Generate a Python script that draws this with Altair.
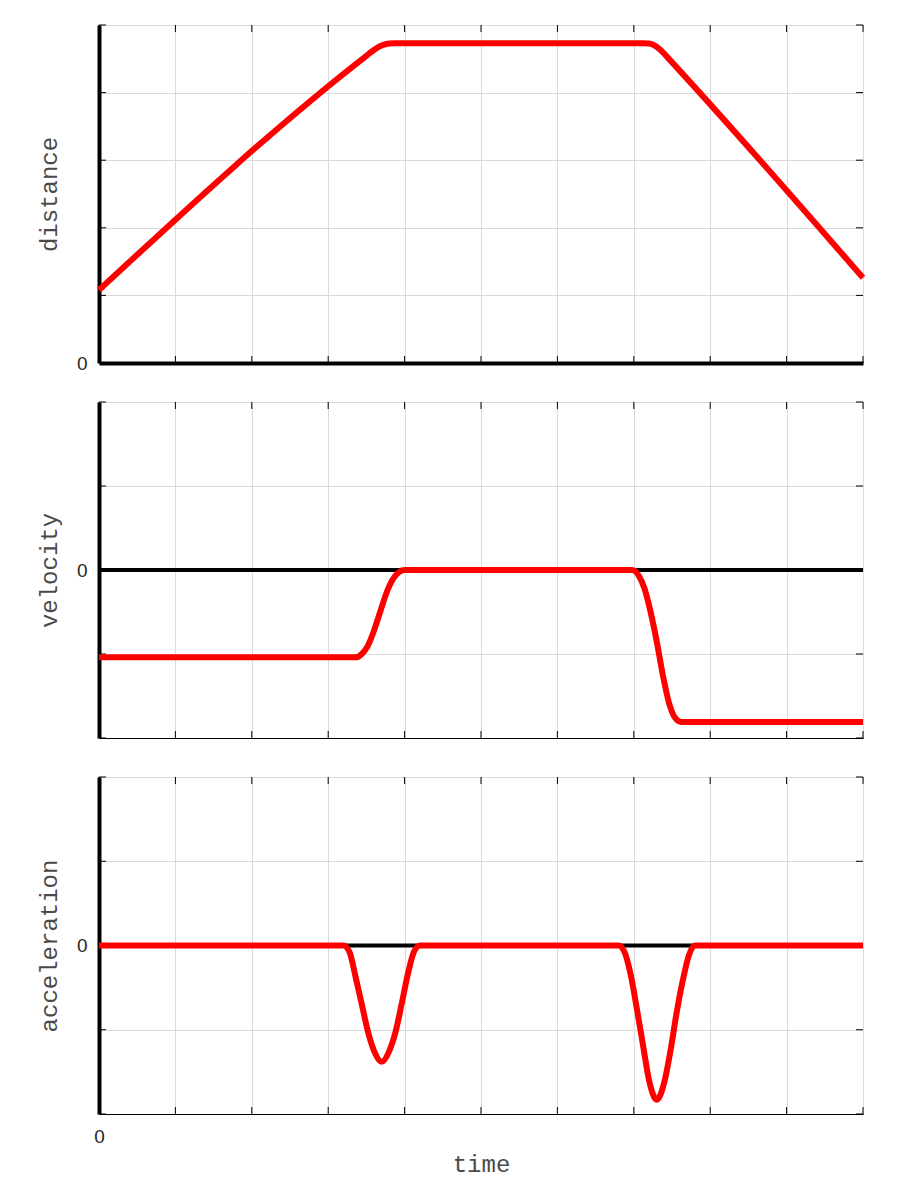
import altair as alt
import pandas as pd

# ---- tick positions ----
time_ticks = [0, 1, 2, 3, 4, 5, 6, 7, 8, 9, 10]
distance_ticks = [0, 1, 2, 3, 4, 5]
velocity_ticks = [-2, -1, 0, 1, 2]
acceleration_ticks = [-2, -1, 0, 1, 2]

# ---- series ----
distance_t = [0, 3.50, 3.58, 3.65, 3.72, 3.80, 3.88, 7.12, 7.20, 7.28, 7.36, 7.45, 10]
distance_v = [1.08, 4.545, 4.615, 4.67, 4.705, 4.725, 4.73, 4.73, 4.725, 4.69, 4.62, 4.51, 1.26]

velocity_t = [0, 3.36, 3.44, 3.52, 3.60, 3.68, 3.76, 3.84, 3.92, 4.00,
              6.98, 7.06, 7.14, 7.22, 7.30, 7.38, 7.46, 7.54, 7.62, 10]
velocity_v = [-1.04, -1.04, -1.00, -0.90, -0.72, -0.50, -0.28, -0.12, -0.03, 0.0,
              0.0, -0.06, -0.22, -0.50, -0.85, -1.25, -1.58, -1.76, -1.81, -1.81]

acceleration_t = [0, 3.20, 3.28, 3.36, 3.44, 3.52, 3.60, 3.70, 3.80, 3.88, 3.96, 4.04, 4.12, 4.20,
                  6.80, 6.88, 6.96, 7.04, 7.12, 7.20, 7.30, 7.40, 7.48, 7.56, 7.64, 7.72, 7.80, 10]
acceleration_v = [0, 0, -0.08, -0.38, -0.70, -1.02, -1.25, -1.38, -1.25, -1.03, -0.70, -0.35, -0.08, 0,
                  0, -0.08, -0.35, -0.75, -1.18, -1.60, -1.83, -1.62, -1.25, -0.80, -0.42, -0.12, 0, 0]

W = 764
MONO = "Liberation Mono"
SANS = "Liberation Sans"
GRID = "#dadada"
TEXT = "#4a4a4a"
TL = 7  # inward tick length


def panel(t, v, ydomain, yticks, ytitle, height, thick_bottom, show_x, zero_line):
    df = pd.DataFrame({"t": t, "v": v})
    xscale = alt.Scale(domain=[0, 10], nice=False, zero=False)
    yscale = alt.Scale(domain=ydomain, nice=False, zero=False)

    xkw = dict(values=time_ticks, grid=True, gridColor=GRID, gridWidth=1,
               ticks=False, tickSize=0, domain=True, domainColor="black",
               domainWidth=4 if thick_bottom else 1)
    if show_x:
        xkw.update(labels=True, labelExpr="datum.value == 0 ? '0' : ''",
                   labelFont=SANS, labelFontSize=19, labelColor="#262626",
                   labelPadding=13, labelFlush=False, title="time", titleFont=MONO,
                   titleFontSize=24, titleFontWeight="normal", titleColor=TEXT,
                   titleY=57, titleBaseline="alphabetic")
    else:
        xkw.update(labels=False, title="")

    ykw = dict(values=yticks, grid=True, gridColor=GRID, gridWidth=1,
               ticks=False, tickSize=0, domain=True, domainColor="black",
               domainWidth=4, labels=True,
               labelExpr="datum.value == 0 ? '0' : ''",
               labelFont=SANS, labelFontSize=19, labelColor="#262626",
               labelPadding=12, title=ytitle, titleFont=MONO, titleFontSize=24,
               titleFontWeight="normal", titleColor=TEXT, titleX=-43,
               titleBaseline="alphabetic")

    line = alt.Chart(df).mark_line(
        color="#ff0000", strokeWidth=6, interpolate="monotone",
        strokeCap="butt", strokeJoin="round"
    ).encode(
        x=alt.X("t:Q", scale=xscale, axis=alt.Axis(**xkw)),
        y=alt.Y("v:Q", scale=yscale, axis=alt.Axis(**ykw)),
    )

    xt = pd.DataFrame({"t": time_ticks})
    yt = pd.DataFrame({"v": yticks})
    tick_top = alt.Chart(xt).mark_rule(color="black", strokeWidth=1).encode(
        x=alt.X("t:Q", scale=xscale), y=alt.value(0), y2=alt.value(TL))
    tick_bot = alt.Chart(xt).mark_rule(color="black", strokeWidth=1).encode(
        x=alt.X("t:Q", scale=xscale), y=alt.value(height - TL), y2=alt.value(height))
    tick_left = alt.Chart(yt).mark_rule(color="black", strokeWidth=1).encode(
        y=alt.Y("v:Q", scale=yscale), x=alt.value(0), x2=alt.value(TL))
    tick_right = alt.Chart(yt).mark_rule(color="black", strokeWidth=1).encode(
        y=alt.Y("v:Q", scale=yscale), x=alt.value(W - TL), x2=alt.value(W))

    layers = [tick_top, tick_bot, tick_left, tick_right]
    if zero_line:
        z = pd.DataFrame({"v": [0]})
        layers.append(alt.Chart(z).mark_rule(color="black", strokeWidth=4).encode(
            y=alt.Y("v:Q", scale=yscale)))
    return alt.layer(*layers, line).properties(width=W, height=height)


top = panel(distance_t, distance_v, [0, 5], distance_ticks, "distance", 338, True, False, False)
mid = panel(velocity_t, velocity_v, [-2, 2], velocity_ticks, "velocity", 336, False, False, True)
bot = panel(acceleration_t, acceleration_v, [-2, 2], acceleration_ticks, "acceleration", 337, False, True, True)

chart = alt.vconcat(top, mid, bot, spacing=39, bounds="flush").properties(
    padding={"left": 28, "top": 16, "right": 20, "bottom": 10},
    background="white",
).configure_view(stroke="black", strokeWidth=1)

chart.save("out.html", embed_options={"renderer": "svg", "actions": False})
